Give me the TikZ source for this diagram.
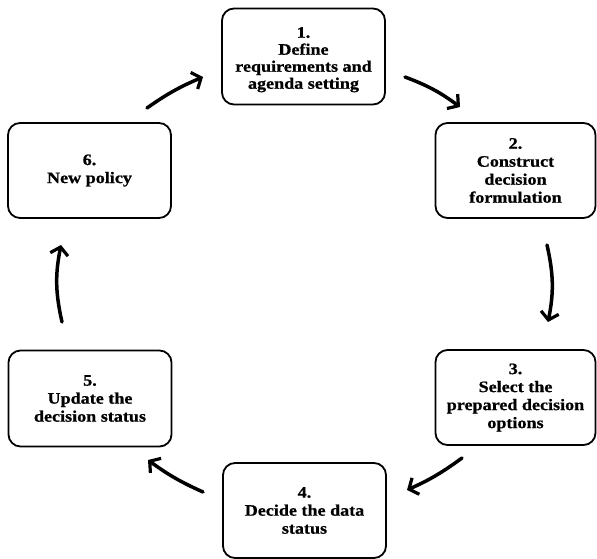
\documentclass[tikz,border=0pt]{standalone}
\usepackage{fontspec}
\setmainfont[FakeStretch=1.13]{Liberation Serif}
\setmainfont[FakeStretch=1.13,BoldFeatures={FakeBold=0.8}]{Liberation Serif}
\usetikzlibrary{arrows.meta}
\tikzset{
  stepbox/.style={draw, line width=1.8pt, rounded corners=12pt, minimum width=163pt, minimum height=96pt,
    align=center, inner sep=2pt, font=\fontsize{16}{18}\selectfont\bfseries},
  cyc/.style={line width=3.5pt, line cap=round, -{Straight Barb[length=7.5pt,width=18pt,line width=3.2pt]}}
}
\begin{document}
\begin{tikzpicture}[x=1pt,y=-1pt]
\useasboundingbox (0,0) rectangle (597,559);
\node[stepbox] (n1) at (303.5,56.5) {\rule{0pt}{17pt}1.\\[-1pt]Define\\[-1pt]requirements and\\[-1pt]agenda setting};
\node[stepbox, minimum width=160pt, minimum height=95pt] (n2) at (515.5,170.5) {2.\\Construct\\decision\\formulation};
\node[stepbox, minimum width=160pt, minimum height=95pt] (n3) at (515.5,397.5) {3.\\Select the\\prepared decision\\options};
\node[stepbox, minimum height=95pt] (n4) at (304.5,510.5) {4.\\Decide the data\\status};
\node[stepbox] (n5) at (90,398.5) {5.\\Update the\\decision status};
\node[stepbox, minimum height=95pt] (n6) at (89.5,170.5) {6.\\New policy};
\coordinate (a61s) at (147,108); \coordinate (a61e) at (203,77);
\coordinate (a12s) at (405,77);  \coordinate (a12e) at (460,107);
\coordinate (a23s) at (547,245); \coordinate (a23e) at (548,322);
\coordinate (a34s) at (462,458); \coordinate (a34e) at (407,490);
\coordinate (a45s) at (203,492); \coordinate (a45e) at (148,460);
\coordinate (a56s) at (62,322);  \coordinate (a56e) at (61,245);
\draw[cyc] (a61s) to[bend left=6] (a61e);
\draw[cyc] (a12s) to[bend left=8] (a12e);
\draw[cyc] (a23s) to[bend left=12] (a23e);
\draw[cyc] (a34s) to[bend left=6] (a34e);
\draw[cyc] (a45s) to[bend left=6] (a45e);
\draw[cyc] (a56s) to[bend left=12] (a56e);
\end{tikzpicture}
\end{document}
